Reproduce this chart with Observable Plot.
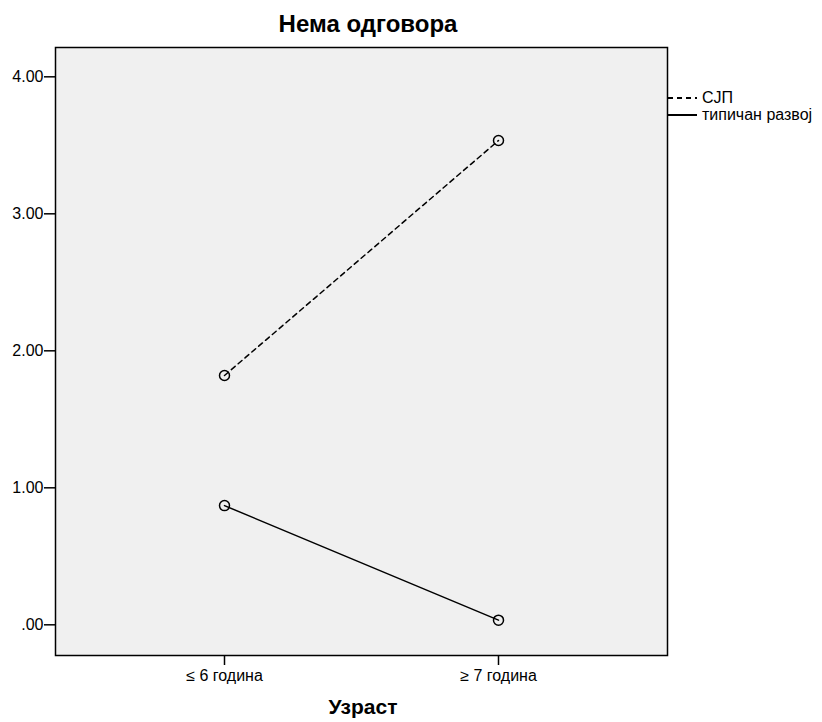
<!DOCTYPE html>
<html>
<head>
<meta charset="utf-8">
<script src="https://cdn.jsdelivr.net/npm/d3@7"></script>
<script src="https://cdn.jsdelivr.net/npm/@observablehq/plot@0.6"></script>
<style>
  body { margin: 0; background: #fff; font-family: "Liberation Sans", Arial, sans-serif; }
  #wrap { position: relative; width: 822px; height: 722px; }
  #title { height: 40px; width: 822px; position: relative; }
  #title span { position: absolute; left: 368px; top: 12px; transform: translateX(-50%);
    font-size: 24px; font-weight: bold; white-space: nowrap; line-height: 1; }
  #legend { position: absolute; left: 668px; top: 89px; font-size: 16px; }
  .li { display: flex; align-items: center; height: 17px; white-space: nowrap; }
  .li svg { margin-right: 5px; }
</style>
</head>
<body>
<div id="wrap">
  <div id="title"><span>Нема одговора</span></div>
  <div id="chart"></div>
  <div id="legend"></div>
</div>
<script>
const categories = ["≤ 6 година", "≥ 7 година"];
const seriesNames = ["СЈП", "типичан развој"];
const sjpValues = [1.82, 3.535];
const typicalValues = [0.87, 0.034];
const yTicks = [0, 1, 2, 3, 4];
const xLabel = "Узраст";

const dashes = {"СЈП": "5,4", "типичан развој": null};

const data = [];
categories.forEach((c, i) => data.push({age: c, value: sjpValues[i], group: seriesNames[0]}));
categories.forEach((c, i) => data.push({age: c, value: typicalValues[i], group: seriesNames[1]}));

const marks = [
  Plot.frame({fill: "#f0f0f0"}),
];
for (const g of seriesNames) {
  marks.push(Plot.line(data.filter(d => d.group === g), {
    x: "age", y: "value", stroke: "#000", strokeWidth: 1.5,
    strokeDasharray: dashes[g] || undefined
  }));
}
marks.push(Plot.dot(data, {x: "age", y: "value", r: 5, stroke: "#000", strokeWidth: 1.5, fill: "none"}));
marks.push(Plot.frame({stroke: "#000", strokeWidth: 1.5}));
marks.push(Plot.axisY({ticks: yTicks, tickFormat: d => d === 0 ? ".00" : d3.format(".2f")(d),
  tickSize: 11, tickPadding: 1, strokeWidth: 1.5, fontSize: 16, label: null, stroke: "#000", fill: "#000"}));
marks.push(Plot.axisX({tickSize: 10, tickPadding: 4, fontSize: 16, label: null, strokeWidth: 1.5, stroke: "#000", fill: "#000"}));
marks.push(Plot.text([xLabel], {frameAnchor: "bottom", text: d => d, dy: 58, dx: 1.5,
  fontSize: 21, fontWeight: "bold", fill: "#000"}));

const chart = Plot.plot({
  width: 822,
  height: 682,
  marginLeft: 55,
  marginRight: 155,
  marginTop: 7,
  marginBottom: 67,
  style: {fontFamily: "'Liberation Sans', Arial, sans-serif", background: "transparent", color: "#000"},
  x: {type: "point", domain: categories, padding: 0.613},
  y: {domain: [-0.224, 4.214]},
  marks
});
document.getElementById("chart").appendChild(chart);

const legend = document.getElementById("legend");
for (const g of seriesNames) {
  const row = document.createElement("div");
  row.className = "li";
  const ns = "http://www.w3.org/2000/svg";
  const s = document.createElementNS(ns, "svg");
  s.setAttribute("width", 29); s.setAttribute("height", 4);
  const l = document.createElementNS(ns, "line");
  l.setAttribute("x1", 0); l.setAttribute("x2", 29); l.setAttribute("y1", 2); l.setAttribute("y2", 2);
  l.setAttribute("stroke", "#000"); l.setAttribute("stroke-width", 2);
  if (dashes[g]) l.setAttribute("stroke-dasharray", dashes[g]);
  s.appendChild(l);
  row.appendChild(s);
  const t = document.createElement("span");
  t.textContent = g;
  row.appendChild(t);
  legend.appendChild(row);
}
</script>
</body>
</html>
